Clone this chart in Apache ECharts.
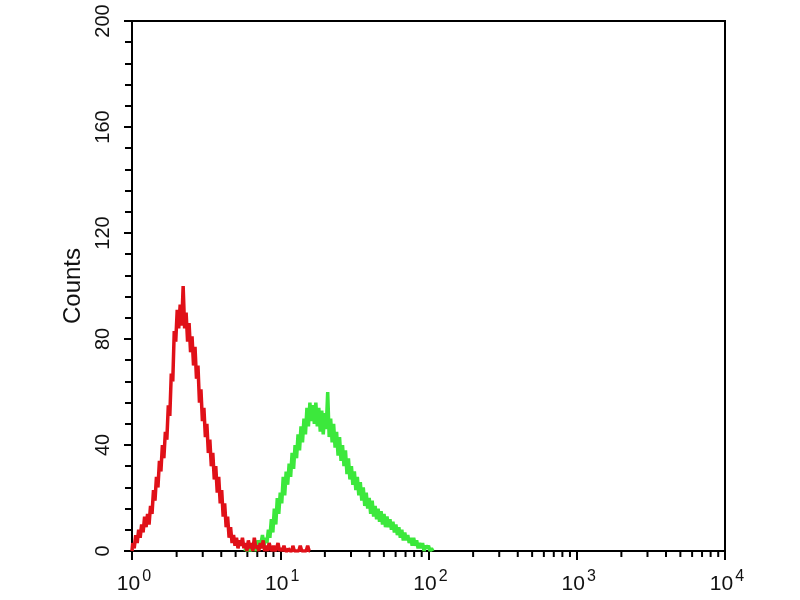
<!DOCTYPE html>
<html>
<head>
<meta charset="utf-8">
<script src="https://cdn.jsdelivr.net/npm/echarts@6/dist/echarts.min.js"></script>
<style>html,body{margin:0;padding:0;background:#fff;}#c{width:800px;height:600px;}</style>
</head>
<body>
<div id="c"></div>
<script>
// x positions are in decades (log10 of intensity); bins of 0.01 decade
const binWidth = 0.01;
const redStart = 0.0;
const redCounts = [0,3,1,6,3,8,5,10,7,13,9,14,10,17,14,23,19,28,24,34,30,40,35,45,42,55,51,67,64,83,79,91,84,93,85,100,84,90,79,86,75,81,70,77,65,70,56,61,49,54,43,48,37,42,32,37,27,32,22,28,18,23,13,18,9,13,5,9,3,6,2,5,1,4,2,5,1,3,0,4,1,3,0,5,1,2,0,3,1,4,0,2,0,3,1,0,2,0,1,3,0,1,0,2,0,0,1,0,0,2,0,0,0,0,2,0,0,0,0,2,0];
const greenStart = 0.76;
const greenCounts = [0,1,0,2,0,1,3,0,2,4,1,3,6,2,5,3,8,5,12,7,16,10,20,14,22,18,28,21,30,25,33,28,37,31,40,35,44,38,47,41,50,44,54,47,56,49,55,48,56,47,54,45,53,44,52,46,60,43,50,41,48,39,45,36,43,34,40,32,38,29,35,27,32,25,30,23,28,21,26,19,24,17,22,16,20,14,19,13,17,12,16,11,15,10,14,9,13,9,12,8,11,7,10,6,9,5,8,4,7,4,6,3,5,2,5,2,4,1,3,1,3,0,2,1,2,0,1,0];
const yTicks = [0,40,80,120,160,200];
const xDecades = [0,1,2,3,4];
const yTitle = 'Counts';

function toPairs(start, counts){
  return counts.map((c,i)=>[+(start + i*binWidth).toFixed(4), c]);
}
const minorTickPos = [];
for (let d=0; d<4; d++) for (let k=2; k<=9; k++) minorTickPos.push([d + Math.log10(k), 0]);

const chart = echarts.init(document.getElementById('c'), null, {renderer:'canvas'});
const fontFamily = 'Liberation Sans, Arial, sans-serif';
chart.setOption({
  backgroundColor:'#fff',
  animation:false,
  grid:{left:132, right:75, top:21, bottom:49, show:true, borderColor:'#000', borderWidth:2, backgroundColor:'transparent'},
  xAxis:{
    type:'value', min:xDecades[0], max:xDecades[xDecades.length-1], interval:1,
    axisLine:{show:true, onZero:false, lineStyle:{color:'#000', width:2}},
    axisTick:{show:true, length:9, lineStyle:{color:'#000', width:2}},
    splitLine:{show:false},
    axisLabel:{
      margin:14,
      formatter:v=>'{b|10}{s|'+v+'}',
      rich:{
        b:{fontSize:21, fontFamily, color:'#111', padding:[9,0,0,4]},
        s:{fontSize:16, fontFamily, color:'#111', padding:[0,0,6,2]}
      }
    }
  },
  yAxis:{
    type:'value', min:0, max:200, interval:40,
    name:yTitle, nameLocation:'middle', nameGap:47, nameRotate:90,
    nameTextStyle:{fontSize:24, fontFamily, color:'#111'},
    axisLine:{show:true, lineStyle:{color:'#000', width:2}},
    axisTick:{show:true, length:8, lineStyle:{color:'#000', width:2}},
    minorTick:{show:true, splitNumber:5, length:7, lineStyle:{color:'#000', width:2}},
    splitLine:{show:false},
    axisLabel:{rotate:90, margin:19, fontSize:20, fontFamily, color:'#111', align:'center', verticalAlign:'bottom',
      formatter:v=>yTicks.includes(v)?String(v):''}
  },
  series:[
    {
      type:'custom', silent:true, clip:false, data:minorTickPos,
      renderItem:(params, api)=>{
        const p = api.coord([api.value(0), api.value(1)]);
        return {type:'line', shape:{x1:p[0], y1:p[1], x2:p[0], y2:p[1]+6}, style:{stroke:'#000', lineWidth:2}};
      }
    },
    {
      type:'line', data:toPairs(greenStart, greenCounts), showSymbol:false,
      lineStyle:{color:'#3ce83c', width:3.5}, z:3
    },
    {
      type:'line', data:toPairs(redStart, redCounts), showSymbol:false, step:'middle',
      lineStyle:{color:'#e01018', width:3.5}, z:4
    }
  ]
});
</script>
</body>
</html>
